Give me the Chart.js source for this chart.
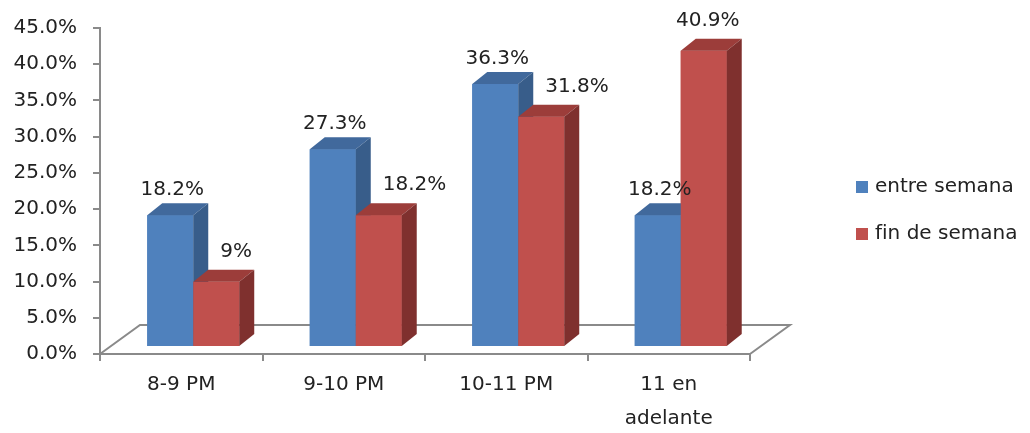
<!DOCTYPE html>
<html lang="es">
<head>
    <meta charset="UTF-8">
    <title>Horario</title>
    <script src="https://cdn.jsdelivr.net/npm/chart.js"></script>
    <style>
        body { margin: 0; background: #fff; }
        #caja { width: 1030px; height: 433px; }
    </style>
</head>
<body>
    <div id="caja">
        <canvas id="grafico"></canvas>
    </div>

    <script>
        // datos del grafico
        const categorias = ['8-9 PM', '9-10 PM', '10-11 PM', ['11 en', 'adelante']];
        const entreSemana = [18.2, 27.3, 36.3, 18.2];
        const finDeSemana = [9, 18.2, 31.8, 40.9];
        const etiquetasEntre = ['18.2%', '27.3%', '36.3%', '18.2%'];
        const etiquetasFin = ['9%', '18.2%', '31.8%', '40.9%'];
        const series = ['entre semana', 'fin de semana'];

        const colores = [
            { frente: '#4F81BD', arriba: '#41699C', lado: '#385D8A' },
            { frente: '#C0504D', arriba: '#9C3D3A', lado: '#7F302E' }
        ];

        const OFF_X = 12, OFF_Y = -7;   // posicion de las barras sobre el piso
        const PROF_X = 15, PROF_Y = -12; // profundidad de cada barra
        const PISO_X = 40, PISO_Y = -29;
        const GRIS = '#8a8a8a';

        Chart.defaults.font.family = 'DejaVu Sans';
        Chart.defaults.font.size = 20;
        Chart.defaults.color = '#222';

        const barras3d = {
            id: 'barras3d',
            beforeDatasetsDraw(chart) {
                const ctx = chart.ctx;
                const a = chart.chartArea;
                // piso
                ctx.save();
                ctx.strokeStyle = GRIS;
                ctx.lineWidth = 2;
                ctx.beginPath();
                ctx.moveTo(a.left, a.bottom);
                ctx.lineTo(a.left + PISO_X, a.bottom + PISO_Y);
                ctx.lineTo(a.right + PISO_X, a.bottom + PISO_Y);
                ctx.lineTo(a.right, a.bottom);
                ctx.stroke();
                ctx.restore();
                ctx.save();
                ctx.translate(OFF_X, OFF_Y);
            },
            afterDatasetsDraw(chart) {
                const ctx = chart.ctx;
                const metas = [chart.getDatasetMeta(0), chart.getDatasetMeta(1)];
                for (let i = 0; i < categorias.length; i++) {
                    for (let d = 0; d < 2; d++) {
                        const b = metas[d].data[i].getProps(['x', 'y', 'base', 'width'], true);
                        const izq = b.x - b.width / 2, der = b.x + b.width / 2;
                        const c = colores[d];
                        ctx.fillStyle = c.frente;
                        ctx.fillRect(izq, b.y, b.width, b.base - b.y);
                        // cara de arriba
                        ctx.fillStyle = c.arriba;
                        ctx.beginPath();
                        ctx.moveTo(izq, b.y);
                        ctx.lineTo(izq + PROF_X, b.y + PROF_Y);
                        ctx.lineTo(der + PROF_X, b.y + PROF_Y);
                        ctx.lineTo(der, b.y);
                        ctx.closePath();
                        ctx.fill();
                        // cara lateral
                        ctx.fillStyle = c.lado;
                        ctx.beginPath();
                        ctx.moveTo(der, b.y);
                        ctx.lineTo(der + PROF_X, b.y + PROF_Y);
                        ctx.lineTo(der + PROF_X, b.base + PROF_Y);
                        ctx.lineTo(der, b.base);
                        ctx.closePath();
                        ctx.fill();
                    }
                }
                // etiquetas de datos
                ctx.fillStyle = '#222';
                ctx.font = '20px "DejaVu Sans"';
                ctx.textBaseline = 'middle';
                for (let i = 0; i < categorias.length; i++) {
                    const b0 = metas[0].data[i].getProps(['x', 'y', 'width'], true);
                    const b1 = metas[1].data[i].getProps(['x', 'y', 'width'], true);
                    ctx.textAlign = 'center';
                    ctx.fillText(etiquetasEntre[i], b0.x + 2, b0.y - 25);
                    if (entreSemana[i] > finDeSemana[i]) {
                        ctx.textAlign = 'left';
                        ctx.fillText(etiquetasFin[i], b1.x - b1.width / 2 + 27, b1.y - 30);
                    } else {
                        ctx.fillText(etiquetasFin[i], b1.x + 4, b1.y - 30);
                    }
                }
                ctx.restore();

                // leyenda
                ctx.save();
                ctx.font = '20px "DejaVu Sans"';
                ctx.textBaseline = 'middle';
                ctx.textAlign = 'left';
                const ys = [187, 234];
                for (let d = 0; d < 2; d++) {
                    ctx.fillStyle = colores[d].frente;
                    ctx.fillRect(856, ys[d] - 6, 12, 12);
                    ctx.fillStyle = '#222';
                    ctx.fillText(series[d], 875, ys[d]);
                }
                ctx.restore();
            }
        };

        new Chart(document.getElementById('grafico'), {
            type: 'bar',
            data: {
                labels: categorias,
                datasets: [
                    { label: series[0], data: entreSemana, backgroundColor: colores[0].frente, clip: false },
                    { label: series[1], data: finDeSemana, backgroundColor: colores[1].frente, clip: false }
                ]
            },
            options: {
                responsive: true,
                maintainAspectRatio: false,
                animation: false,
                categoryPercentage: 0.566,
                barPercentage: 1.0,
                layout: { padding: { top: 27, right: 280, bottom: 0, left: 0 } },
                plugins: {
                    legend: { display: false },
                    tooltip: { enabled: false }
                },
                scales: {
                    x: {
                        grid: { drawOnChartArea: false, tickLength: 7, color: GRIS, lineWidth: 2 },
                        border: { color: GRIS, width: 2 },
                        ticks: { padding: 7, maxRotation: 0, autoSkip: false, font: { size: 20, lineHeight: 1.7 } },
                        afterFit(s) { s.height = 79; }
                    },
                    y: {
                        min: 0,
                        max: 45,
                        grid: { drawOnChartArea: false, tickLength: 7, color: GRIS, lineWidth: 2 },
                        border: { color: GRIS, width: 2 },
                        ticks: {
                            stepSize: 5,
                            padding: 16,
                            callback: function (v) { return v.toFixed(1) + '%'; }
                        },
                        afterFit(s) { s.width = 100; }
                    }
                }
            },
            plugins: [barras3d]
        });
    </script>
</body>
</html>
